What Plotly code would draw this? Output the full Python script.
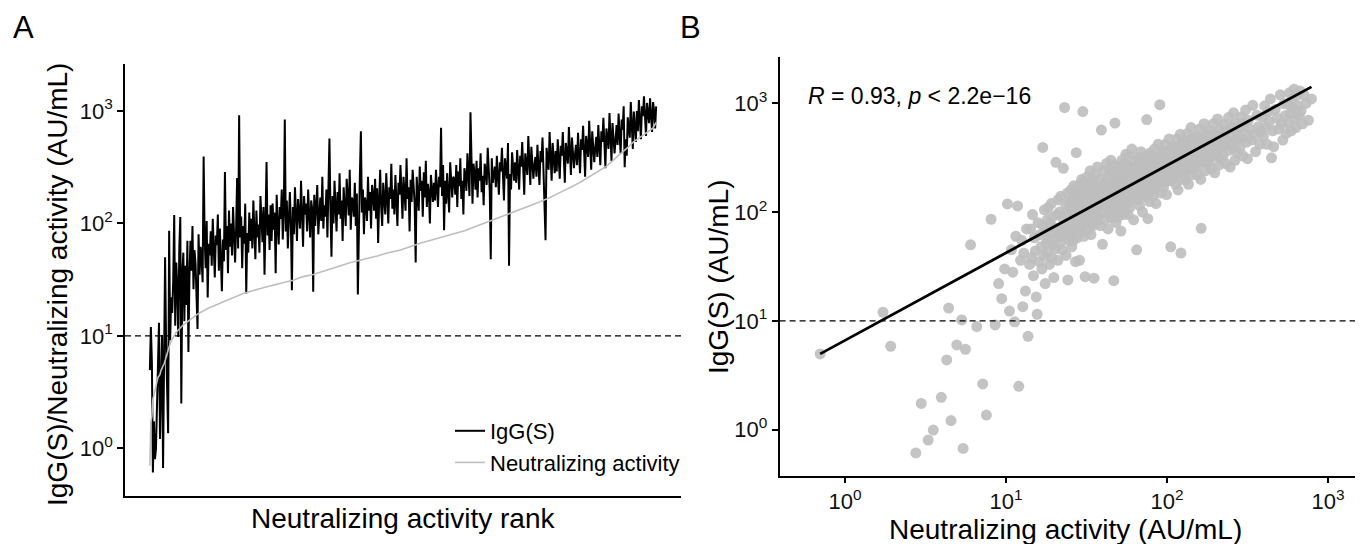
import numpy as np
import plotly.graph_objects as go

# ---------------- data ----------------
# Neutralizing activity (AU/mL), sorted ascending (rank order)
neut_activity = [
    0.70, 1.72, 1.92, 2.75, 2.97, 3.28, 3.53, 3.96, 4.28, 4.40, 4.55, 4.94, 5.30, 5.41, 5.59, 6.02, 6.58, 7.16, 7.55, 8.07,
    8.55, 9.0, 9.4, 9.8, 10.2, 10.5, 10.8, 11.0, 11.3, 11.5, 11.8, 12.0, 12.3, 12.5, 12.7, 12.9, 13.2, 13.4, 13.7, 14.0,
    14.2, 14.4, 14.6, 14.8, 15.0, 15.2, 15.4, 15.6, 15.8, 16.0, 16.2, 16.5, 16.7, 16.9, 17.0, 17.2, 17.3, 17.5, 17.7, 17.8,
    18.0, 18.1, 18.3, 18.4, 18.6, 18.8, 18.9, 19.1, 19.3, 19.4, 19.6, 19.8, 20.0, 20.2, 20.4, 20.6, 20.8, 21.0, 21.1, 21.3,
    21.5, 21.7, 21.9, 22.1, 22.3, 22.5, 22.7, 22.9, 23.1, 23.3, 23.5, 23.6, 23.8, 23.9, 24.1, 24.2, 24.4, 24.6, 24.7, 24.9,
    25.0, 25.2, 25.3, 25.5, 25.6, 25.8, 25.9, 26.1, 26.2, 26.4, 26.5, 26.7, 26.8, 27.0, 27.1, 27.3, 27.4, 27.6, 27.7, 27.9,
    28.0, 28.2, 28.3, 28.5, 28.6, 28.8, 28.9, 29.1, 29.2, 29.4, 29.5, 29.7, 29.8, 30.0, 30.1, 30.3, 30.4, 30.6, 30.7, 30.9,
    31.0, 31.3, 31.5, 31.8, 32.0, 32.3, 32.5, 32.8, 33.0, 33.3, 33.5, 33.7, 33.8, 34.0, 34.1, 34.3, 34.4, 34.6, 34.7, 34.9,
    35.0, 35.2, 35.4, 35.6, 35.8, 36.0, 36.2, 36.4, 36.6, 36.8, 37.0, 37.3, 37.6, 37.9, 38.2, 38.5, 38.8, 39.1, 39.4, 39.7,
    40.0, 40.3, 40.6, 40.9, 41.2, 41.5, 41.8, 42.1, 42.4, 42.7, 43.0, 43.3, 43.5, 43.8, 44.0, 44.3, 44.5, 44.8, 45.0, 45.2,
    45.5, 45.7, 46.0, 46.2, 46.5, 46.7, 47.0, 47.2, 47.5, 47.7, 48.0, 48.2, 48.4, 48.6, 48.8, 49.0, 49.2, 49.4, 49.6, 49.8,
    50.0, 50.3, 50.7, 51.0, 51.4, 51.7, 52.1, 52.4, 52.8, 53.1, 53.5, 53.7, 54.0, 54.2, 54.5, 54.7, 55.0, 55.2, 55.5, 55.7,
    56.0, 56.3, 56.6, 56.9, 57.2, 57.5, 57.8, 58.1, 58.4, 58.7, 59.0, 59.5, 60.0, 60.5, 61.0, 61.5, 62.0, 62.5, 63.0, 63.5,
    64.0, 64.4, 64.8, 65.2, 65.6, 66.0, 66.4, 66.8, 67.2, 67.6, 68.0, 68.4, 68.8, 69.2, 69.6, 70.0, 70.4, 70.8, 71.2, 71.6,
    72.0, 72.4, 72.8, 73.2, 73.6, 74.0, 74.4, 74.8, 75.2, 75.6, 76.0, 76.4, 76.8, 77.2, 77.6, 78.0, 78.4, 78.8, 79.2, 79.6,
    80.0, 80.6, 81.2, 81.8, 82.4, 83.0, 83.6, 84.2, 84.8, 85.4, 86.0, 86.7, 87.4, 88.1, 88.8, 89.5, 90.2, 90.9, 91.6, 92.3,
    93.0, 93.7, 94.4, 95.1, 95.8, 96.5, 97.2, 97.9, 98.6, 99.3, 100, 101, 102, 103, 104, 105, 105.5, 106, 107, 108,
    109, 110, 111, 112, 113, 113.5, 114, 115, 116, 117, 118, 119, 120, 121, 122, 122.5, 123, 124, 125, 126,
    127, 128, 129, 130, 131, 132, 133, 134, 135, 136, 138, 139, 140, 141, 142, 143, 145, 146, 147, 149,
    150, 151, 153, 154, 155, 157, 158, 159, 160, 162, 163, 165, 167, 168, 170, 172, 173, 175, 177, 178,
    180, 182, 184, 186, 188, 190, 192, 194, 196, 198, 200, 202, 204, 206, 208, 210, 212, 214, 216, 218,
    220, 223, 226, 229, 232, 235, 238, 241, 244, 247, 250, 253, 256, 259, 262, 265, 268, 271, 274, 277,
    280, 284, 288, 292, 296, 300, 304, 308, 312, 316, 320, 327, 334, 341, 348, 355, 362, 369, 376, 383,
    390, 397, 404, 411, 418, 425, 432, 439, 446, 453, 460, 470, 482, 494, 506, 515, 524, 533, 542, 551,
    560, 568, 576, 584, 592, 600, 608, 616, 624, 632, 640, 650, 660, 670, 680, 695, 710, 730, 755, 790,
]

# IgG(S) (AU/mL) of the same samples, in the same (rank) order
igg_s = [
    4.96, 12.0, 5.84, 0.61, 1.74, 0.80, 0.99, 1.98, 4.37, 13.1, 1.21, 6.0, 10.2, 0.67, 5.48, 50, 8.85, 2.63, 1.36, 86,
    9.17, 22, 16, 30, 119, 12.3, 45, 28, 9.8, 60, 114, 2.5, 36, 55, 13.5, 42, 18.8, 70, 7.2, 33,
    70, 38, 95, 26, 58, 44, 16.6, 11.5, 80, 35, 62, 48, 30, 394, 75, 40, 105, 22, 66, 52,
    85, 42, 110, 55, 33, 78, 64, 120, 38, 90, 50, 25, 72, 46, 287, 58, 95, 36, 130, 62,
    100, 52, 140, 68, 45, 88, 253, 60, 917, 75, 115, 40, 95, 66, 150, 23.8, 82, 55, 125, 70,
    110, 60, 160, 85, 48, 130, 75, 98, 55, 175, 90, 68, 140, 35, 105, 352, 78, 120, 58, 145,
    70, 150, 88, 125, 36, 180, 95, 65, 140, 110, 200, 72, 130, 841, 85, 160, 60, 115, 190, 98,
    25.5, 140, 80, 210, 115, 70, 165, 130, 90, 240, 105, 62, 175, 120, 150, 85, 200, 110, 75, 160,
    135, 24.7, 180, 95, 150, 220, 80, 125, 170, 105, 260, 90, 145, 115, 200, 75, 160, 569, 130, 50.6,
    175, 100, 240, 140, 85, 190, 120, 280, 110, 160, 70, 210, 135, 95, 250, 150, 118, 300, 88, 170,
    160, 115, 230, 95, 185, 23.4, 140, 270, 659, 125, 200, 80, 170, 150, 105, 260, 130, 190, 90, 220,
    180, 130, 250, 110, 205, 67, 160, 300, 140, 95, 230, 175, 120, 280, 150, 100, 210, 165, 340, 135,
    200, 120, 270, 150, 95, 230, 180, 330, 140, 110, 260, 190, 130, 380, 165, 210, 85, 245, 155, 300,
    210, 150, 45, 260, 180, 130, 320, 195, 240, 115, 285, 170, 360, 140, 225, 190, 100, 270, 205, 155,
    230, 160, 300, 190, 140, 260, 210, 710, 175, 330, 87, 240, 150, 280, 200, 125, 350, 220, 170, 260,
    250, 180, 330, 140, 290, 215, 380, 165, 240, 120, 310, 270, 195, 420, 230, 175, 973, 260, 150, 340,
    280, 200, 360, 170, 310, 240, 420, 190, 265, 145, 340, 300, 220, 470, 250, 195, 48, 380, 230, 290,
    320, 210, 400, 260, 180, 350, 290, 470, 230, 160, 380, 310, 250, 520, 42, 275, 200, 430, 330, 240,
    350, 230, 450, 290, 200, 400, 320, 530, 260, 180, 420, 340, 270, 600, 310, 220, 480, 370, 250, 330,
    390, 260, 500, 320, 220, 440, 350, 580, 290, 200, 71, 470, 380, 300, 650, 340, 240, 520, 410, 280,
    440, 290, 560, 360, 250, 490, 400, 650, 330, 230, 520, 430, 340, 720, 380, 270, 580, 460, 310, 410,
    500, 330, 640, 410, 280, 560, 450, 740, 370, 260, 600, 490, 390, 820, 430, 300, 660, 520, 350, 470,
    590, 390, 750, 480, 330, 660, 530, 870, 440, 310, 700, 580, 460, 960, 510, 360, 780, 610, 420, 550,
    750, 500, 950, 610, 420, 840, 680, 1100, 316, 560, 400, 880, 730, 580, 1200, 650, 460, 990, 770, 530,
    1000, 660, 1250, 820, 560, 1100, 900, 1350, 720, 600, 1180, 950, 780, 1300, 850, 650, 1200, 1000, 700, 1100,
]

assert len(neut_activity) == len(igg_s)

threshold = 10                      # dashed reference line (AU/mL)
fit_intercept = 0.821               # log10-log10 regression line
fit_slope = 0.8045
stat_label = "<i>R</i> = 0.93, <i>p</i> &lt; 2.2e\u221216"

tick_vals = [1, 10, 100, 1000]
tick_text = ["10<sup>0</sup>", "10<sup>1</sup>", "10<sup>2</sup>", "10<sup>3</sup>"]

# ---------------- figure ----------------
W, H = 1365, 544
FONT = "Liberation Sans, Arial, Helvetica, sans-serif"

def px_x(p):
    return p / W

def px_y(p):
    return 1 - p / H

neut = np.array(neut_activity, dtype=float)
igg = np.array(igg_s, dtype=float)
rank = np.arange(1, len(neut) + 1)

fig = go.Figure()

# Panel A
fig.add_trace(go.Scatter(
    x=rank, y=igg, mode="lines", name="IgG(S)",
    line=dict(color="black", width=2.0),
    xaxis="x", yaxis="y", legendrank=1,
))
fig.add_trace(go.Scatter(
    x=rank, y=neut, mode="lines", name="Neutralizing activity",
    line=dict(color="#bebebe", width=1.6),
    xaxis="x", yaxis="y", legendrank=2,
))

# Panel B
fig.add_trace(go.Scatter(
    x=neut, y=igg, mode="markers", showlegend=False,
    marker=dict(color="rgba(190,190,190,0.9)", size=11, line=dict(width=0)),
    xaxis="x2", yaxis="y2",
))
fit_x = np.array([neut.min(), neut.max()])
fit_y = 10 ** (fit_intercept + fit_slope * np.log10(fit_x))
fig.add_trace(go.Scatter(
    x=fit_x, y=fit_y, mode="lines", showlegend=False,
    line=dict(color="black", width=2.8),
    xaxis="x2", yaxis="y2",
))

axis_common = dict(showgrid=False, zeroline=False, showline=True,
                   linecolor="black", linewidth=1.6,
                   tickfont=dict(family=FONT, size=22, color="#111111"))

n = len(neut)
fig.update_layout(
    width=W, height=H,
    margin=dict(l=0, r=0, t=0, b=0),
    paper_bgcolor="white", plot_bgcolor="white",
    font=dict(family=FONT, color="black"),
    xaxis=dict(domain=[px_x(125), px_x(681)], anchor="y",
               range=[1 - 0.0491 * (n - 1), n + 0.0491 * (n - 1)],
               showticklabels=False, ticks="", **axis_common),
    yaxis=dict(domain=[px_y(496), px_y(64)], anchor="x", type="log",
               range=[-0.424, 3.418], tickvals=tick_vals, ticktext=tick_text,
               ticks="outside", ticklen=6, tickwidth=1.6, tickcolor="black",
               **axis_common),
    xaxis2=dict(domain=[px_x(779.6), px_x(1355)], anchor="y2", type="log",
                range=[-0.407, 3.168], tickvals=tick_vals, ticktext=tick_text,
                ticks="outside", ticklen=5, tickwidth=1.6, tickcolor="black",
                **axis_common),
    yaxis2=dict(domain=[px_y(476), px_y(57.3)], anchor="x2", type="log",
                range=[-0.427, 3.424], tickvals=tick_vals, ticktext=tick_text,
                ticks="outside", ticklen=6, tickwidth=1.6, tickcolor="black",
                **axis_common),
    legend=dict(x=px_x(450), y=px_y(410), xanchor="left", yanchor="top",
                bgcolor="rgba(0,0,0,0)", borderwidth=0,
                font=dict(family=FONT, size=22, color="black"),
                tracegroupgap=0),
    showlegend=True,
)

# dashed threshold lines
for xr, yr in (("x domain", "y"), ("x2 domain", "y2")):
    fig.add_shape(type="line", xref=xr, yref=yr, x0=0, x1=1,
                  y0=threshold, y1=threshold,
                  line=dict(color="black", width=1.2, dash="6px,4px"))

title_font = dict(family=FONT, size=28, color="black")
annotations = [
    dict(text="A", x=px_x(23), y=px_y(27), font=dict(family=FONT, size=31, color="black")),
    dict(text="B", x=px_x(690), y=px_y(27), font=dict(family=FONT, size=31, color="black")),
    dict(text="Neutralizing activity rank", x=px_x(403), y=px_y(518), font=title_font),
    dict(text="IgG(S)/Neutralizing activity (AU/mL)", x=px_x(57), y=px_y(285),
         textangle=-90, font=title_font),
    dict(text="Neutralizing activity (AU/mL)", x=px_x(1065), y=px_y(529), font=title_font),
    dict(text="IgG(S) (AU/mL)", x=px_x(718), y=px_y(277), textangle=-90, font=title_font),
    dict(text=stat_label, x=px_x(806), y=px_y(96), xanchor="left",
         font=dict(family=FONT, size=23, color="black")),
]
for a in annotations:
    a.setdefault("xanchor", "center")
    fig.add_annotation(xref="paper", yref="paper", showarrow=False,
                       yanchor="middle", **a)

fig.write_html("out.html", config={"displayModeBar": False})
